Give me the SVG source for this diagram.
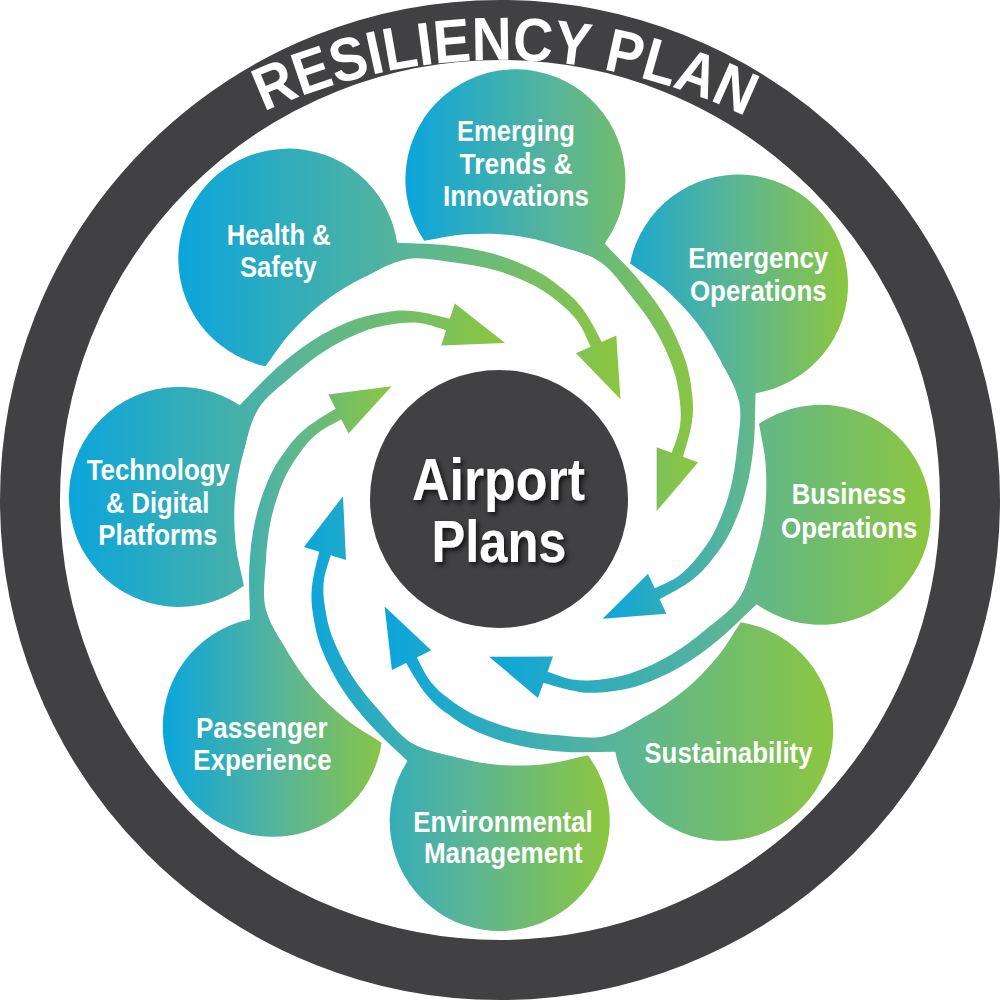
<svg xmlns="http://www.w3.org/2000/svg" width="1000" height="1001" viewBox="0 0 1000 1001">
<defs>
<style>
.lbl{font-family:"Liberation Sans",Arial,sans-serif;font-weight:bold;font-size:29px;fill:#fff;text-anchor:middle}
.ctr{font-family:"Liberation Sans",Arial,sans-serif;font-weight:bold;font-size:60px;fill:#fff;text-anchor:middle}
.ttl{font-family:"Liberation Sans",Arial,sans-serif;font-weight:bold;font-size:61px;fill:#fff}
.dark{fill:#414042}
</style>
<filter id="shadow" x="-20%" y="-20%" width="140%" height="140%">
<feDropShadow dx="2.5" dy="3" stdDeviation="2.5" flood-color="#000" flood-opacity="0.7"/>
</filter>
<path id="petal" d="M755.3,412.1 A110,110 0 1 1 761.1,592.5 L742.9,588.4 C750.7,575.7 753.3,560 757,545.3 C760.7,530.6 763.9,515.3 765,500 C766.2,484.7 765.5,468.2 763.9,453.5 C762.3,438.9 758.2,425.9 755.3,412.1 Z"/>
<path id="tail" d="M761.1,592.5 C749,604.9 736.8,618.9 724.7,629.8 C712.6,640.7 700.9,650.1 688.4,658.1 C675.9,666.2 661.5,673.4 649.5,678.1 C637.5,682.9 626.9,684.9 616.6,686.6 C606.3,688.3 598.5,689.1 587.7,688.1 C576.9,687.1 563.3,683.7 551.7,680.7 L546.9,696 L496.2,657 L560.1,654 L555.3,669.3 C565.4,672.2 573.2,675.4 582.2,676.3 C591.2,677.2 599.6,676.3 609.2,674.7 C618.8,673.1 628.6,671.1 639.8,666.6 C651,662.1 664.5,655.4 676.2,647.8 C687.9,640.3 698.9,631.2 710,621.3 C721.1,611.4 735.1,601.1 742.9,588.4 C750.7,575.7 753.3,560 757,545.3 L775,560 Z"/>
<path id="arcText" d="M-63,623 A563,563 0 0 1 1063,623"/>
<linearGradient id="gEme" gradientUnits="userSpaceOnUse" x1="405" y1="0" x2="698" y2="0" gradientTransform="rotate(87.3 500 500)"><stop offset="0" stop-color="#0ba5dc"/><stop offset="0.5" stop-color="#56b49b"/><stop offset="1" stop-color="#8cc63f"/></linearGradient>
<linearGradient id="gEop" gradientUnits="userSpaceOnUse" x1="603" y1="0" x2="848" y2="0" gradientTransform="rotate(42.2 500 500)"><stop offset="0" stop-color="#0ba5dc"/><stop offset="0.5" stop-color="#56b49b"/><stop offset="1" stop-color="#8cc63f"/></linearGradient>
<linearGradient id="gBus" gradientUnits="userSpaceOnUse" x1="489" y1="0" x2="931" y2="0" gradientTransform="rotate(-2.6 500 500)"><stop offset="0" stop-color="#0ba5dc"/><stop offset="0.5" stop-color="#56b49b"/><stop offset="1" stop-color="#8cc63f"/></linearGradient>
<linearGradient id="gSus" gradientUnits="userSpaceOnUse" x1="385" y1="0" x2="833" y2="0" gradientTransform="rotate(-45.9 500 500)"><stop offset="0" stop-color="#0ba5dc"/><stop offset="0.5" stop-color="#56b49b"/><stop offset="1" stop-color="#8cc63f"/></linearGradient>
<linearGradient id="gEnv" gradientUnits="userSpaceOnUse" x1="304" y1="0" x2="610" y2="0" gradientTransform="rotate(-90 500 500)"><stop offset="0" stop-color="#0ba5dc"/><stop offset="0.5" stop-color="#56b49b"/><stop offset="1" stop-color="#8cc63f"/></linearGradient>
<linearGradient id="gPas" gradientUnits="userSpaceOnUse" x1="163" y1="0" x2="392" y2="0" gradientTransform="rotate(-135 500 500)"><stop offset="0" stop-color="#0ba5dc"/><stop offset="0.5" stop-color="#56b49b"/><stop offset="1" stop-color="#8cc63f"/></linearGradient>
<linearGradient id="gTec" gradientUnits="userSpaceOnUse" x1="69" y1="0" x2="505" y2="0" gradientTransform="rotate(-180.5 500 500)"><stop offset="0" stop-color="#0ba5dc"/><stop offset="0.5" stop-color="#56b49b"/><stop offset="1" stop-color="#8cc63f"/></linearGradient>
<linearGradient id="gHea" gradientUnits="userSpaceOnUse" x1="178" y1="0" x2="621" y2="0" gradientTransform="rotate(131.3 500 500)"><stop offset="0" stop-color="#0ba5dc"/><stop offset="0.5" stop-color="#56b49b"/><stop offset="1" stop-color="#8cc63f"/></linearGradient>
</defs>
<rect width="1000" height="1001" fill="#fff"/>
<g id="ring">
<circle cx="500" cy="500" r="470" fill="none" stroke="#414042" stroke-width="60"/>
<text class="ttl"><textPath href="#arcText" startOffset="50.3%" text-anchor="middle" textLength="498" lengthAdjust="spacingAndGlyphs">RESILIENCY PLAN</textPath></text>
</g>
<g id="node-emerging">
<use href="#petal" transform="rotate(-87.3 500 500)" fill="url(#gEme)"/>
<text class="lbl" x="516" y="141" textLength="118" lengthAdjust="spacingAndGlyphs">Emerging</text>
<text class="lbl" x="516" y="173.5" textLength="113" lengthAdjust="spacingAndGlyphs">Trends &amp;</text>
<text class="lbl" x="516" y="206" textLength="146" lengthAdjust="spacingAndGlyphs">Innovations</text>
</g>
<g id="node-emergency">
<use href="#petal" transform="rotate(-42.2 500 500)" fill="url(#gEop)"/>
<text class="lbl" x="758.3" y="268.3" textLength="140" lengthAdjust="spacingAndGlyphs">Emergency</text>
<text class="lbl" x="758.3" y="300.7" textLength="136.7" lengthAdjust="spacingAndGlyphs">Operations</text>
</g>
<g id="node-business">
<use href="#petal" transform="rotate(2.6 500 500)" fill="url(#gBus)"/>
<text class="lbl" x="848.8" y="504" textLength="114.3" lengthAdjust="spacingAndGlyphs">Business</text>
<text class="lbl" x="849.2" y="538.3" textLength="136.3" lengthAdjust="spacingAndGlyphs">Operations</text>
</g>
<g id="node-sustainability">
<use href="#petal" transform="rotate(45.9 500 500)" fill="url(#gSus)"/>
<text class="lbl" x="728.5" y="763.3" textLength="168.3" lengthAdjust="spacingAndGlyphs">Sustainability</text>
</g>
<g id="node-environmental">
<use href="#petal" transform="rotate(90 500 500)" fill="url(#gEnv)"/>
<text class="lbl" x="503" y="831.7" textLength="179.3" lengthAdjust="spacingAndGlyphs">Environmental</text>
<text class="lbl" x="503.3" y="863.3" textLength="158.7" lengthAdjust="spacingAndGlyphs">Management</text>
</g>
<g id="node-passenger">
<use href="#petal" transform="rotate(135 500 500)" fill="url(#gPas)"/>
<text class="lbl" x="261.8" y="737.7" textLength="131.7" lengthAdjust="spacingAndGlyphs">Passenger</text>
<text class="lbl" x="262.5" y="770" textLength="138.3" lengthAdjust="spacingAndGlyphs">Experience</text>
</g>
<g id="node-technology">
<use href="#petal" transform="rotate(180.5 500 500)" fill="url(#gTec)"/>
<text class="lbl" x="158.3" y="480" textLength="143.3" lengthAdjust="spacingAndGlyphs">Technology</text>
<text class="lbl" x="157.7" y="513.3" textLength="103.3" lengthAdjust="spacingAndGlyphs">&amp; Digital</text>
<text class="lbl" x="157.8" y="545" textLength="119" lengthAdjust="spacingAndGlyphs">Platforms</text>
</g>
<g id="node-health">
<use href="#petal" transform="rotate(-131.3 500 500)" fill="url(#gHea)"/>
<text class="lbl" x="278.7" y="245" textLength="104" lengthAdjust="spacingAndGlyphs">Health &amp;</text>
<text class="lbl" x="278.3" y="276.7" textLength="76.7" lengthAdjust="spacingAndGlyphs">Safety</text>
</g>
<g id="connectors">
<use href="#tail" transform="rotate(-87.3 500 500)" fill="url(#gEme)"/>
<use href="#tail" transform="rotate(-42.2 500 500)" fill="url(#gEop)"/>
<use href="#tail" transform="rotate(2.6 500 500)" fill="url(#gBus)"/>
<use href="#tail" transform="rotate(45.9 500 500)" fill="url(#gSus)"/>
<use href="#tail" transform="rotate(90 500 500)" fill="url(#gEnv)"/>
<use href="#tail" transform="rotate(135 500 500)" fill="url(#gPas)"/>
<use href="#tail" transform="rotate(180.5 500 500)" fill="url(#gTec)"/>
<use href="#tail" transform="rotate(-131.3 500 500)" fill="url(#gHea)"/>
</g>
<g id="node-center">
<circle class="dark" cx="499" cy="499" r="129"/>
<g filter="url(#shadow)">
<text class="ctr" x="498.5" y="500" textLength="173" lengthAdjust="spacingAndGlyphs">Airport</text>
<text class="ctr" x="499" y="561.5" textLength="135" lengthAdjust="spacingAndGlyphs">Plans</text>
</g>
</g>
</svg>
